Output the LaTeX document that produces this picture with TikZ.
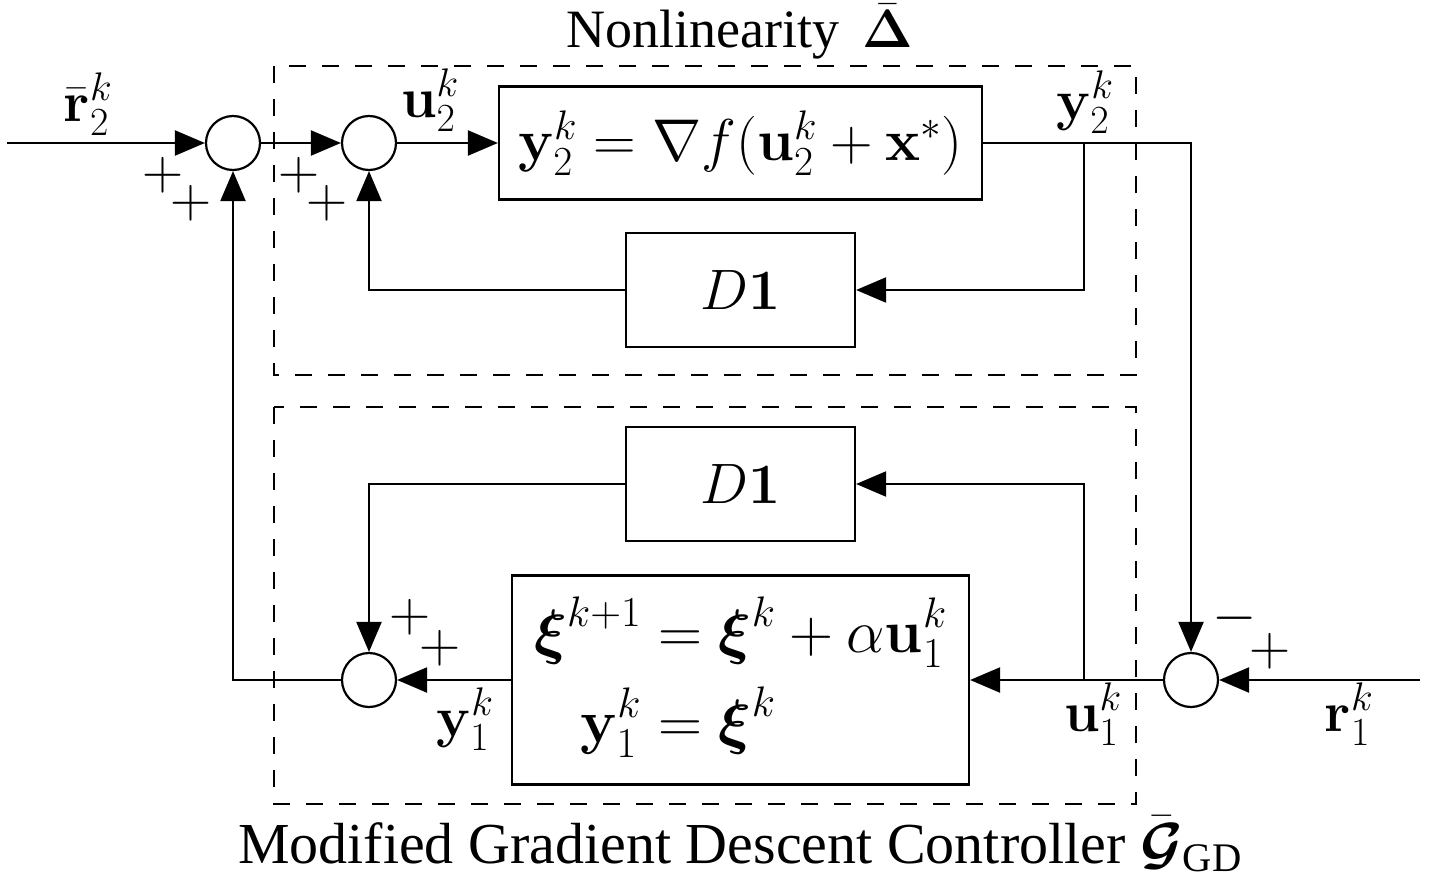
\RequirePackage{fix-cm}
\documentclass[tikz,border=0pt]{standalone}
\usepackage{amsmath}
\usepackage[no-math]{fontspec}
\setmainfont{Liberation Serif}
\usetikzlibrary{arrows.meta}
\begin{document}
\begin{tikzpicture}[x=1pt,y=-1pt,
  every node/.style={font=\fontsize{57}{66}\selectfont},
  line width=2.2pt,
  arr/.style={-{Triangle[length=30pt,width=25pt]}},
  sumnode/.style={draw,circle,minimum size=54pt,inner sep=0pt},
  blockbox/.style={draw,rectangle,inner sep=0pt},
  dashbox/.style={line width=1.8pt,dash pattern=on 17pt off 16pt},
  lbl/.style={inner sep=0pt}]
\useasboundingbox (0,0) rectangle (1430,888);
% dashed frames
\draw[dashbox] (274,66) rectangle (1136,375);
\draw[dashbox] (274,407) rectangle (1136,804);
% captions
\node[anchor=base,font=\fontsize{54}{60}\selectfont] (cap1) at (740,48) {Nonlinearity \,$\bar{\boldsymbol\Delta}$};
\node[anchor=base,font=\fontsize{58}{62}\selectfont] (cap2) at (740,863) {Modified Gradient Descent Controller $\bar{\boldsymbol{\mathcal G}}_{\text{GD}}$};
% summing junctions
\node[sumnode] (s1) at (233,143) {};
\node[sumnode] (s2) at (369,143) {};
\node[sumnode] (s3) at (1191,680) {};
\node[sumnode] (s4) at (369,680) {};
% blocks
\node[blockbox,minimum width=483pt,minimum height=113pt,font=\fontsize{59}{66}\selectfont] (F) at (740.5,143) {$\mathbf y_2^k=\nabla f(\mathbf u_2^k+\mathbf x^*)$};
\node[blockbox,minimum width=229pt,minimum height=114pt] (D1t) at (740.5,290) {$D\mathbf 1$};
\node[blockbox,minimum width=229pt,minimum height=114pt] (D1b) at (740.5,484) {$D\mathbf 1$};
\node[blockbox,minimum width=457pt,minimum height=209pt,font=\fontsize{61}{68}\selectfont] (G) at (740.5,680) {$\begin{aligned}\boldsymbol\xi^{k+1}&=\boldsymbol\xi^k+\alpha\mathbf u_1^k\\[10pt]\mathbf y_1^k&=\boldsymbol\xi^k\end{aligned}$};
% coordinates
\coordinate (in2) at (7,143);
\coordinate (in1) at (1420,680);
\coordinate (c1) at (1191,143);
\coordinate (b1) at (1084,143);
\coordinate (b2) at (1084,680);
% connectors
\draw[arr] (in2) -- (s1);
\draw[arr] (s1) -- (s2);
\draw[arr] (s2) -- (F);
\draw[arr] (F.east) -- (c1) -- (s3);
\draw[arr] (b1) |- (D1t);
\draw[arr] (D1t) -| (s2);
\draw[arr] (s4) -| (s1);
\draw[arr] (G) -- (s4);
\draw[arr] (s3) -- (G);
\draw[arr] (b2) |- (D1b);
\draw[arr] (D1b) -| (s4);
\draw[arr] (in1) -- (s3);
% signal labels
\node[lbl] (lr2) at (88,104) {$\bar{\mathbf r}_2^k$};
\node[lbl] (lu2) at (430,100) {$\mathbf u_2^k$};
\node[lbl] (ly2) at (1085,102) {$\mathbf y_2^k$};
\node[lbl] (ly1) at (465,719) {$\mathbf y_1^k$};
\node[lbl] (lu1) at (1093,714) {$\mathbf u_1^k$};
\node[lbl] (lr1) at (1349,714) {$\mathbf r_1^k$};
% signs
\node[lbl] (p1a) at (163,175) {$+$};
\node[lbl] (p1b) at (191,203) {$+$};
\node[lbl] (p2a) at (299,175) {$+$};
\node[lbl] (p2b) at (327,203) {$+$};
\node[lbl] (p4a) at (410,617) {$+$};
\node[lbl] (p4b) at (440,648) {$+$};
\node[lbl] (m3) at (1235,618) {$-$};
\node[lbl] (p3) at (1270,651) {$+$};
\end{tikzpicture}
\end{document}
